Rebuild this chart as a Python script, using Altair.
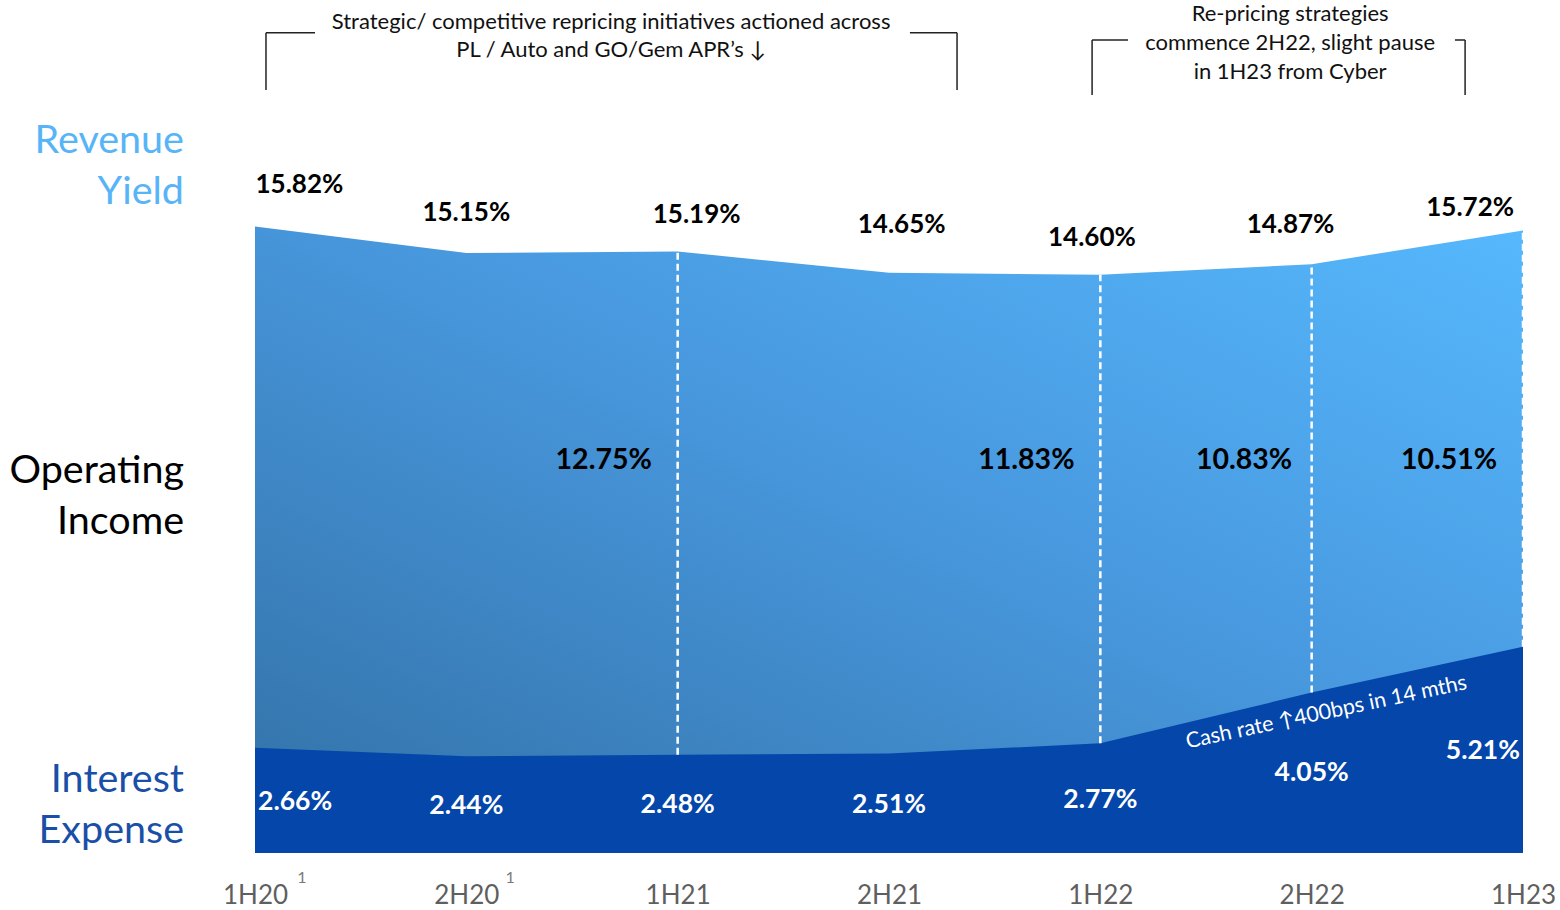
import altair as alt
import pandas as pd

# ---------------- data ----------------
periods = ["1H20", "2H20", "1H21", "2H21", "1H22", "2H22", "1H23"]
revenue_yield = [15.82, 15.15, 15.19, 14.65, 14.60, 14.87, 15.72]
interest_expense = [2.66, 2.44, 2.48, 2.51, 2.77, 4.05, 5.21]
op_income_text = ["12.75%", "11.83%", "10.83%", "10.51%"]

# annotation anchors (x = period index, y = percentage units)
rev_label_x = [0.21, 1.00, 2.09, 3.06, 3.96, 4.90, 5.75]
rev_label_y = [16.86, 16.15, 16.10, 15.87, 15.54, 15.85, 16.29]
int_label_x = [0.19, 1.00, 2.00, 3.00, 4.00, 5.00, 5.81]
int_label_y = [1.29, 1.19, 1.21, 1.21, 1.34, 2.02, 2.57]
op_label_x = [1.65, 3.65, 4.68, 5.65]
op_label_y = [9.92, 9.92, 9.92, 9.92]
divider_periods = [2, 4, 5, 6]

left_lines = ["Revenue", "Yield", "Operating", "Income", "Interest", "Expense"]
left_y = [17.97, 16.68, 9.64, 8.37, 1.84, 0.55]
left_colors = ["#56b4f7", "#56b4f7", "#000000", "#000000", "#1a4fa8", "#1a4fa8"]

note1_lines = ["Strategic/ competitive repricing initiatives actioned across",
               "PL / Auto and GO/Gem APR\u2019s \u2193"]
note1_x = 1.685
note1_y = [20.98, 20.28]
note2_lines = ["Re-pricing strategies", "commence 2H22, slight pause", "in 1H23 from Cyber"]
note2_x = 4.898
note2_y = [21.19, 20.45, 19.72]

# bracket segments (x, y, x2, y2)
br_x = [0.052, 0.052, 3.322, 3.099, 3.961, 3.961, 5.726, 5.678]
br_y = [19.27, 20.71, 19.27, 20.71, 19.14, 20.53, 19.14, 20.53]
br_x2 = [0.052, 0.284, 3.322, 3.322, 3.961, 4.131, 5.726, 5.726]
br_y2 = [20.71, 20.71, 20.71, 20.71, 20.53, 20.53, 20.53, 20.53]

cash_text = "Cash rate \u2191400bps in 14 mths"
cash_x, cash_y = 5.07, 3.54

FONT = "Lato"
YMAX = 21.54

df = pd.DataFrame({"idx": list(range(len(periods))), "period": periods,
                   "rev": revenue_yield, "int": interest_expense})

label_expr = "[" + ",".join(f"'{p}'" for p in periods) + "][datum.value]"
xs = alt.Scale(domain=[0, 6], nice=False, zero=False)
ys = alt.Scale(domain=[0, YMAX], nice=False)

X = alt.X("idx:Q", scale=xs, title=None,
          axis=alt.Axis(values=list(range(7)), labelExpr=label_expr, domain=False, ticks=False,
                        grid=False, labelFont=FONT, labelFontSize=26, labelColor="#5f5f5f",
                        labelPadding=29, labelFlush=False))

grad = alt.Gradient(gradient="linear",
                    stops=[alt.GradientStop(color="#3270a5", offset=0),
                           alt.GradientStop(color="#4898de", offset=0.55),
                           alt.GradientStop(color="#56b8fd", offset=1)],
                    x1=0, y1=1, x2=1, y2=0)

rev_area = alt.Chart(df).mark_area(color=grad, line=False).encode(
    x=X, y=alt.Y("rev:Q", scale=ys, axis=None))
int_area = alt.Chart(df).mark_area(color="#0446aa").encode(
    x="idx:Q", y=alt.Y("int:Q", scale=ys))

div_df = df[df["idx"].isin(divider_periods)]
dividers = alt.Chart(div_df).mark_rule(color="white", strokeDash=[7, 4], strokeWidth=2.5).encode(
    x="idx:Q", y="int:Q", y2="rev:Q")

rev_lab_df = pd.DataFrame({"x": rev_label_x, "y": rev_label_y,
                           "t": [f"{v:.2f}%" for v in revenue_yield]})
rev_labels = alt.Chart(rev_lab_df).mark_text(font=FONT, fontSize=26, fontWeight="bold",
                                             color="#000000", baseline="middle").encode(
    x="x:Q", y="y:Q", text="t:N")

int_lab_df = pd.DataFrame({"x": int_label_x, "y": int_label_y,
                           "t": [f"{v:.2f}%" for v in interest_expense]})
int_labels = alt.Chart(int_lab_df).mark_text(font=FONT, fontSize=26.5, fontWeight="bold",
                                             color="white", baseline="middle").encode(
    x="x:Q", y="y:Q", text="t:N")

op_lab_df = pd.DataFrame({"x": op_label_x, "y": op_label_y, "t": op_income_text})
op_labels = alt.Chart(op_lab_df).mark_text(font=FONT, fontSize=28.5, fontWeight="bold",
                                           color="#000000", baseline="middle").encode(
    x="x:Q", y="y:Q", text="t:N")

left_df = pd.DataFrame({"x": [-0.336] * len(left_lines), "y": left_y, "t": left_lines,
                        "c": left_colors})
left_labels = alt.Chart(left_df).mark_text(font=FONT, fontSize=39.5, align="right",
                                           baseline="middle").encode(
    x="x:Q", y="y:Q", text="t:N", color=alt.Color("c:N", scale=None))

note_df = pd.DataFrame({"x": [note1_x] * 2 + [note2_x] * 3,
                        "y": note1_y + note2_y,
                        "t": note1_lines + note2_lines})
notes = alt.Chart(note_df).mark_text(font=FONT, fontSize=22, color="#111111",
                                     baseline="middle").encode(
    x="x:Q", y="y:Q", text="t:N")

br_df = pd.DataFrame({"x": br_x, "y": br_y, "x2": br_x2, "y2": br_y2})
brackets = alt.Chart(br_df).mark_rule(color="#222222", strokeWidth=1.5).encode(
    x="x:Q", y="y:Q", x2="x2:Q", y2="y2:Q")

sup_df = pd.DataFrame({"x": [0.222, 1.207], "y": [-0.63, -0.63], "t": ["1", "1"]})
sups = alt.Chart(sup_df).mark_text(font=FONT, fontSize=16, color="#7a7a7a",
                                   baseline="middle").encode(x="x:Q", y="y:Q", text="t:N")

cash_df = pd.DataFrame({"x": [cash_x], "y": [cash_y], "t": [cash_text]})
cash = alt.Chart(cash_df).mark_text(font=FONT, fontSize=21.5, color="white", angle=348,
                                    baseline="middle").encode(x="x:Q", y="y:Q", text="t:N")

chart = alt.layer(rev_area, int_area, dividers, rev_labels, int_labels, op_labels,
                  left_labels, notes, brackets, sups, cash).properties(
    width=1268, height=853,
    autosize=alt.AutoSizeParams(type="none"),
    padding={"left": 255, "top": 0, "right": 37, "bottom": 57},
    background="white",
).configure_view(stroke=None)

chart.save("out.html", embed_options={"renderer": "svg", "actions": False})
